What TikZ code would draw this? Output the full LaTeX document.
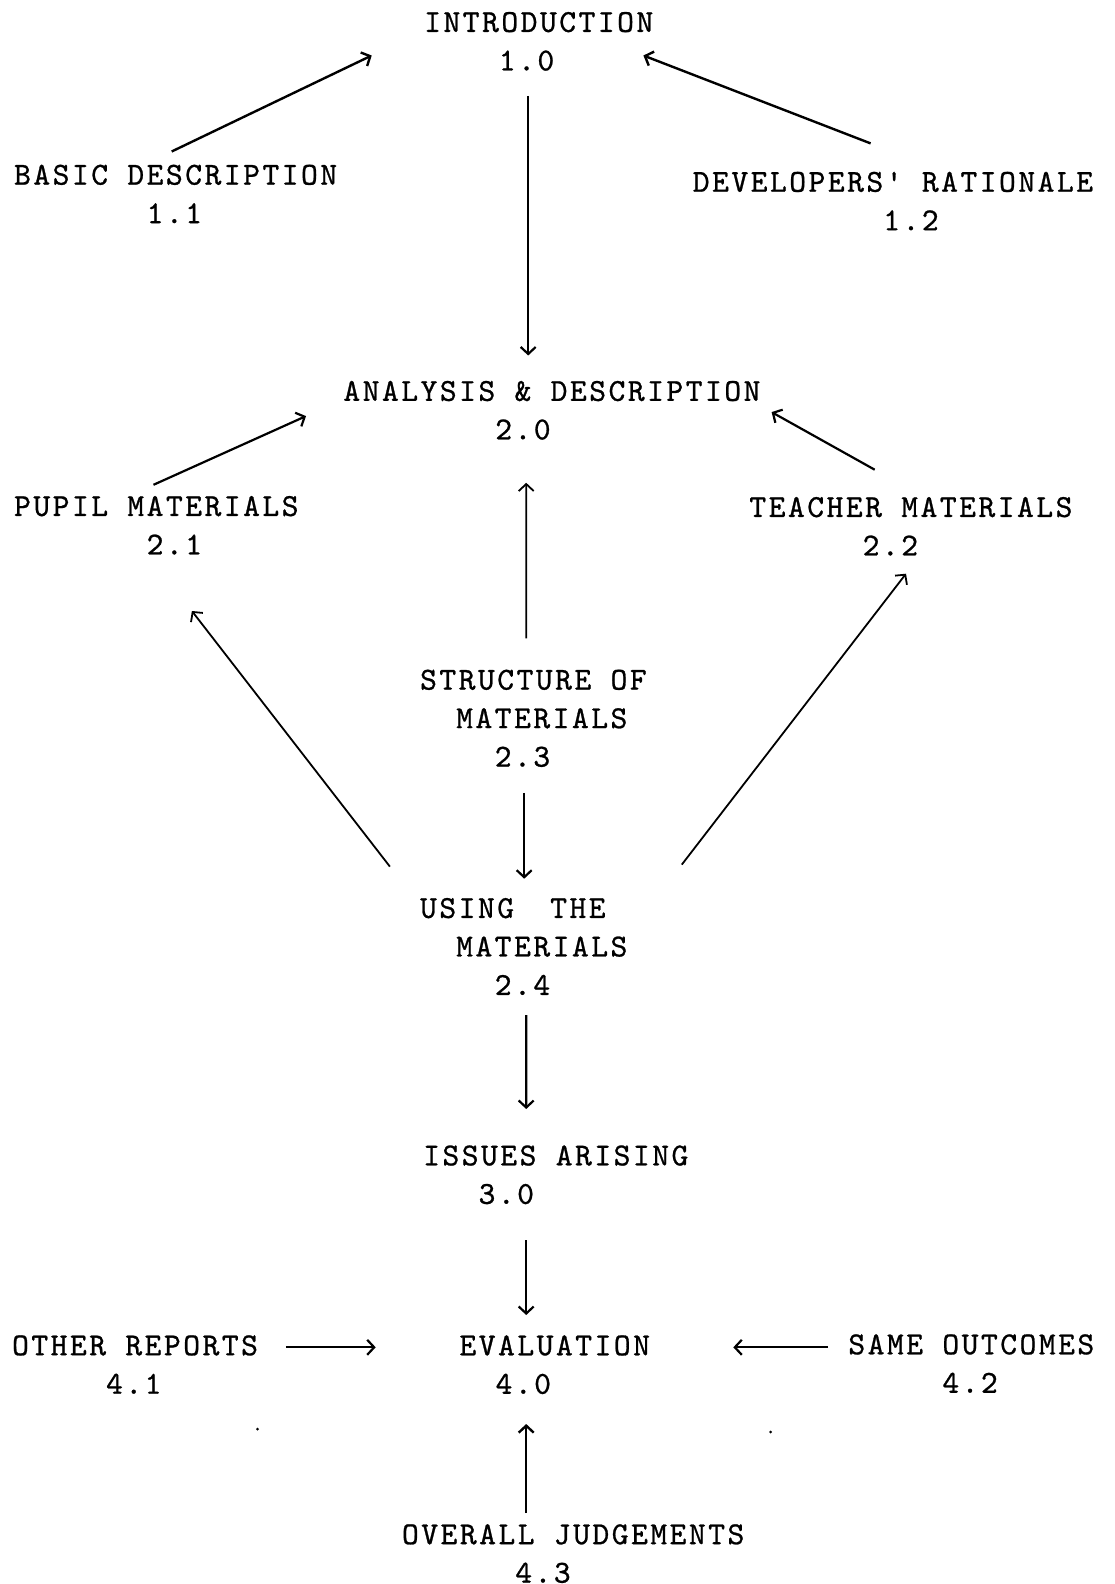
\documentclass[tikz,border=0pt]{standalone}
\usepackage{fontspec}
\newfontfamily\tw[LetterSpace=7.8,FakeBold=0.8]{lmmono10-regular.otf}
\usetikzlibrary{arrows.meta,calc}
\newcommand{\ind}[1]{\hphantom{#1}}
\begin{document}
\begin{tikzpicture}[x=1pt,y=-1pt,
  lbl/.style={anchor=north west,inner sep=0pt,outer sep=0pt,align=left,
    font={\tw\fontsize{32}{38.5}\selectfont}},
  arr/.style={-{Straight Barb[length=7pt,width=15pt]},line width=1.8pt},
  dot/.style={fill=black,circle,inner sep=0pt,minimum size=3pt}]
\useasboundingbox[fill=white] (0,0) rectangle (1115,1584);

\node[lbl] (intro)   at (424.2,12)    {INTRODUCTION\\\ind{0000}1.0};
\node[lbl] (basic)   at (14.1,164.7)  {BASIC DESCRIPTION\\\ind{0000000}1.1};
\node[lbl] (dev)     at (692.8,171.8) {DEVELOPERS' RATIONALE\\\ind{0000000000}1.2};
\node[lbl] (anal)    at (343.4,380.9) {ANALYSIS \& DESCRIPTION\\\ind{00000000}2.0};
\node[lbl] (pupil)   at (14.1,496)    {PUPIL MATERIALS\\\ind{0000000}2.1};
\node[lbl] (teach)   at (749.4,497)   {TEACHER MATERIALS\\\ind{000000}2.2};
\node[lbl] (struct)  at (420.1,669.7) {STRUCTURE OF\\\ind{00}MATERIALS\\\ind{0000}2.3};
\node[lbl] (using)   at (420.1,898)   {USING\ind{00}THE\\\ind{00}MATERIALS\\\ind{0000}2.4};
\node[lbl] (issues)  at (423.2,1145.4){ISSUES ARISING\\\ind{000}3.0};
\node[lbl] (other)   at (12.1,1335.3) {OTHER REPORTS\\\ind{00000}4.1};
\node[lbl] (eval)    at (459.5,1335.3){EVALUATION\\\ind{00}4.0};
\node[lbl] (same)    at (848.4,1334.3){SAME OUTCOMES\\\ind{00000}4.2};
\node[lbl] (overall) at (402,1524.2)  {OVERALL JUDGEMENTS\\\ind{000000}4.3};

\draw[arr,line width=2.4pt] ($(basic.north west)+(157.6,-13.2)$) -- ($(intro.north west)+(-52.5,43.5)$);
\draw[arr,line width=2.4pt] ($(dev.north west)+(177.8,-28.4)$) -- ($(intro.north west)+(219.2,43.5)$);
\draw[arr,line width=2.2pt] ($(intro.north west)+(104,84)$) -- ($(anal.north west)+(184.8,-25.4)$);
\draw[arr,line width=2.2pt] ($(pupil.north west)+(139.4,-11.2)$) -- ($(anal.north west)+(-37.4,35.2)$);
\draw[arr,line width=2.2pt] ($(teach.north west)+(125.3,-27.3)$) -- ($(anal.north west)+(428.2,31.2)$);
\draw[arr] ($(struct.north west)+(106.1,-31.4)$) -- ($(anal.north west)+(182.8,101.9)$);
\draw[arr] ($(using.north west)+(-30.2,-31.4)$) -- ($(pupil.north west)+(177.8,115)$);
\draw[arr] ($(using.north west)+(261.7,-33.4)$) -- ($(teach.north west)+(156.6,76.7)$);
\draw[arr,line width=2.2pt] ($(struct.north west)+(104.1,123.2)$) -- ($(using.north west)+(104.1,-19.3)$);
\draw[arr,line width=2.2pt] ($(using.north west)+(106.1,117)$) -- ($(issues.north west)+(103,-36.4)$);
\draw[arr,line width=2.2pt] ($(issues.north west)+(103,94.9)$) -- ($(eval.north west)+(66.7,-20.3)$);
\draw[arr,line width=2.2pt] ($(other.north west)+(273.7,12)$) -- ($(eval.north west)+(-83.8,12)$);
\draw[arr,line width=2.2pt] ($(same.north west)+(-20.2,13)$) -- ($(eval.north west)+(273.8,12)$);
\draw[arr,line width=2.4pt] ($(overall.north west)+(124.2,-11.2)$) -- ($(eval.north west)+(66.7,88.7)$);

\node[dot] (d1) at (257.5,1429) {};
\node[dot] (d2) at (770.6,1432) {};
\end{tikzpicture}
\end{document}
